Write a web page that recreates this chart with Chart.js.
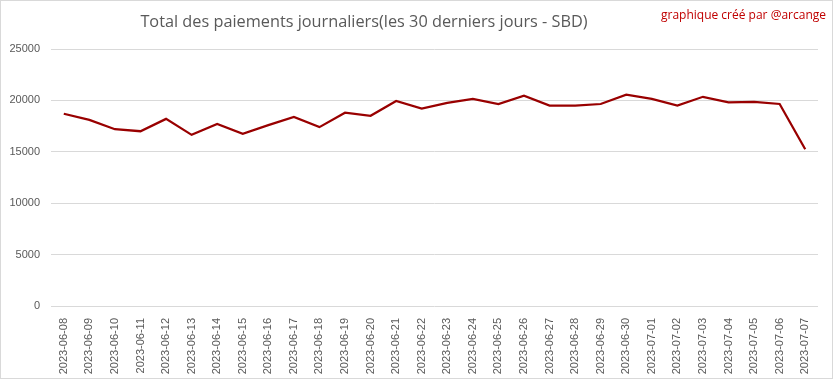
<!DOCTYPE html>
<html>
<head>
<meta charset="utf-8">
<script src="https://cdn.jsdelivr.net/npm/chart.js@4"></script>
<style>
html,body{margin:0;padding:0;background:#fff;}
#wrap{position:relative;width:833px;height:379px;}
canvas{display:block;}
</style>
</head>
<body>
<div id="wrap"><canvas id="c" width="833" height="379"></canvas></div>
<script>
const categories = ["2023-06-08","2023-06-09","2023-06-10","2023-06-11","2023-06-12","2023-06-13","2023-06-14","2023-06-15","2023-06-16","2023-06-17","2023-06-18","2023-06-19","2023-06-20","2023-06-21","2023-06-22","2023-06-23","2023-06-24","2023-06-25","2023-06-26","2023-06-27","2023-06-28","2023-06-29","2023-06-30","2023-07-01","2023-07-02","2023-07-03","2023-07-04","2023-07-05","2023-07-06","2023-07-07"];
const payments = [18700,18100,17200,17000,18200,16650,17700,16750,17600,18400,17400,18800,18500,19950,19200,19750,20150,19650,20450,19500,19500,19650,20550,20150,19500,20350,19800,19850,19650,15250];
const yTicks = [0,5000,10000,15000,20000,25000];
const titleText = "Total des paiements journaliers(les 30 derniers jours - SBD)";
const creditText = "graphique créé par @arcange";

const decor = {
  id: 'decor',
  afterDraw(chart) {
    const ctx = chart.ctx;
    ctx.save();
    ctx.strokeStyle = '#d9d9d9';
    ctx.lineWidth = 1;
    ctx.strokeRect(0.5, 0.5, chart.width - 1, chart.height - 1);
    ctx.fillStyle = '#595959';
    ctx.font = '16.3px "Open Sans"';
    ctx.textAlign = 'center';
    ctx.textBaseline = 'middle';
    ctx.fillText(titleText, 364, 22);
    ctx.fillStyle = '#c00000';
    ctx.font = '12px "Open Sans"';
    ctx.textAlign = 'right';
    ctx.fillText(creditText, 826, 16);
    ctx.restore();
  }
};

new Chart(document.getElementById('c'), {
  type: 'line',
  data: {
    labels: categories,
    datasets: [{
      data: payments,
      borderColor: '#990000',
      borderWidth: 2.25,
      pointRadius: 0,
      tension: 0,
      fill: false
    }]
  },
  options: {
    responsive: false,
    animation: false,
    layout: { padding: { top: 49, right: 15, left: 0, bottom: 0 } },
    plugins: { legend: { display: false }, tooltip: { enabled: false }, title: { display: false } },
    scales: {
      x: {
        offset: true,
        grid: { display: false },
        border: { display: false },
        ticks: {
          color: '#595959',
          font: { family: 'Liberation Sans', size: 11 },
          minRotation: 90, maxRotation: 90,
          autoSkip: false,
          padding: 4
        },
        afterFit(scale) { scale.height = 379 - 306; }
      },
      y: {
        min: 0, max: 25000,
        afterBuildTicks(scale) { scale.ticks = yTicks.map(v => ({ value: v })); },
        grid: { color: '#d9d9d9', lineWidth: 1, drawTicks: false },
        border: { display: false },
        ticks: {
          color: '#595959',
          font: { family: 'Liberation Sans', size: 11 },
          padding: 11,
          callback: (v) => String(v)
        },
        afterFit(scale) { scale.width = 51; }
      }
    }
  },
  plugins: [decor]
});
</script>
</body>
</html>
